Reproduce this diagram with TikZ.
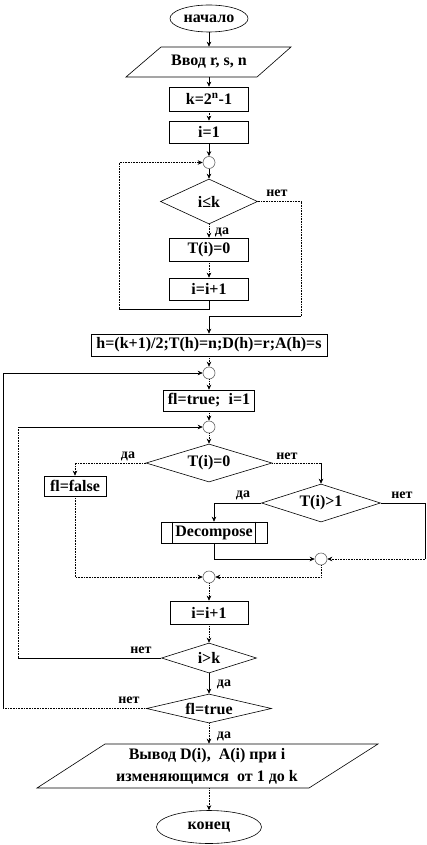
\documentclass[tikz,border=0pt]{standalone}
\usepackage{fontspec}
\setmainfont{Liberation Serif}
\usetikzlibrary{shapes.geometric,arrows.meta}
\begin{document}
\begin{tikzpicture}[x=1pt,y=-1pt,
  font=\fontsize{16}{18}\selectfont\bfseries,
  every path/.style={line width=0.6pt},
  arr/.style={-{Stealth[length=5pt,width=4.5pt]}},
  dt/.style={densely dotted},
  lab/.style={font=\fontsize{14}{16}\selectfont\bfseries, inner sep=0pt},
  pbox/.style={draw, rectangle, inner sep=0pt},
  dia/.style={draw, diamond, inner sep=0pt},
  con/.style={draw=black!60, circle, minimum size=12pt, inner sep=0pt},
  term/.style={draw, ellipse, inner sep=0pt}]
\useasboundingbox (0,0) rectangle (427,845);

% nodes
\node[term, minimum width=78pt, minimum height=27pt] (start) at (209,18.5) {начало};
\node[minimum width=100pt, minimum height=30pt, inner sep=0pt] (io1) at (209,62) {Ввод r, s, n};
\draw (161,47) -- (291,47) -- (257,77) -- (126,77) -- cycle;
\node[pbox, minimum width=79pt, minimum height=24pt] (k) at (209,99) {k=2\textsuperscript{n}-1};
\node[pbox, minimum width=79pt, minimum height=22pt] (i1) at (209,132) {i=1};
\node[con] (c1) at (209,162.5) {};
\node[dia, minimum width=97pt, minimum height=45pt, aspect=2.15] (d1) at (209,201.5) {i≤k};
\node[pbox, minimum width=79pt, minimum height=23pt] (t0) at (209,249.5) {T(i)=0};
\node[pbox, minimum width=79pt, minimum height=22pt] (inc1) at (209,289) {i=i+1};
\node[pbox, minimum width=236pt, minimum height=22pt] (h) at (209,345) {h=(k+1)/2;T(h)=n;D(h)=r;A(h)=s};
\node[con] (c2) at (209,373) {};
\node[pbox, minimum width=91pt, minimum height=21pt] (f) at (209,400.5) {fl=true;\ \ i=1};
\node[con] (c3) at (209,427) {};
\node[dia, minimum width=126pt, minimum height=38pt, aspect=3.3] (d2) at (209,463) {T(i)=0};
\node[pbox, minimum width=62pt, minimum height=20pt] (ff) at (75,486) {fl=false};
\node[dia, minimum width=119pt, minimum height=38pt, aspect=3.1] (d3) at (321,503) {T(i)>1};
\node[pbox, minimum width=106pt, minimum height=21pt] (dec) at (214,532.5) {Decompose};
\draw ([xshift=12pt]dec.north west) -- ([xshift=12pt]dec.south west);
\draw ([xshift=-12pt]dec.north east) -- ([xshift=-12pt]dec.south east);
\node[con] (c4) at (321,559) {};
\node[con] (c5) at (209,577) {};
\node[pbox, minimum width=78pt, minimum height=23pt] (inc2) at (209,612.5) {i=i+1};
\node[dia, minimum width=95pt, minimum height=30pt, aspect=3.2] (d4) at (209,658) {i>k};
\node[dia, minimum width=125pt, minimum height=29pt, aspect=4.3] (d5) at (209,708.5) {fl=true};
\node[minimum width=200pt, minimum height=44pt, inner sep=0pt, align=center,
      font=\fontsize{16}{22}\selectfont\bfseries] (out) at (207,766)
      {Вывод D(i),\ \ A(i) при i\\изменяющимся\ \ от 1 до k};
\draw (105,744) -- (378,744) -- (309,788) -- (37,788) -- cycle;
\node[term, minimum width=105pt, minimum height=33pt] (end) at (209,827) {конец};

% labels
\node[lab] at (277,193) {нет};
\node[lab] at (222,232) {да};
\node[lab] at (128,456) {да};
\node[lab] at (287,456) {нет};
\node[lab] at (243,495) {да};
\node[lab] at (402,495) {нет};
\node[lab] at (141,650) {нет};
\node[lab] at (224,684) {да};
\node[lab] at (129,700) {нет};
\node[lab] at (224,736) {да};

% corner coordinates
\coordinate (p1) at (209,309);
\coordinate (p2) at (119,309);
\coordinate (p3) at (301,201.5);
\coordinate (p4) at (301,316);
\coordinate (p5) at (209,316);
\coordinate (q1) at (75,463);
\coordinate (q2) at (321,463);
\coordinate (q3) at (214,503);
\coordinate (q4) at (425,503);
\coordinate (q5) at (425,559);
\coordinate (q6) at (214,559);
\coordinate (q7) at (321,577);
\coordinate (q8) at (75,577);
\coordinate (r1) at (18,658);
\coordinate (r2) at (18,427);
\coordinate (s1) at (3,708.5);
\coordinate (s2) at (3,373);

% connectors
\draw[arr] (start) -- (io1);
\draw[arr] (io1) -- (k);
\draw[arr,dt] (k) -- (i1);
\draw[arr] (i1) -- (c1);
\draw[arr] (c1) -- (d1);
\draw[arr,dt] (d1) -- (t0);
\draw[arr,dt] (t0) -- (inc1);
\draw (inc1.south) -- (p1) -- (p2);
\draw[arr,dt] (p2) |- (c1.west);
\draw[dt] (d1.east) -- (p3) -- (p4);
\draw[arr] (p4) -- (p5) -- (h.north);
\draw[arr,dt] (h) -- (c2);
\draw[arr,dt] (c2) -- (f);
\draw[arr,dt] (f) -- (c3);
\draw[arr,dt] (c3) -- (d2);
\draw[arr,dt] (d2.west) -- (q1) -- (ff.north);
\draw[dt] (d2.east) -- (q2);
\draw[arr] (q2) -- (d3.north);
\draw[arr] (d3.west) -- (q3) -- (dec.north);
\draw (d3.east) -- (q4) -- (q5);
\draw[arr,dt] (q5) -- (c4.east);
\draw[arr] (dec.south) -- (q6) -- (c4.west);
\draw[arr,dt] (c4.south) -- (q7) -- (c5.east);
\draw[arr,dt] (ff.south) -- (q8) -- (c5.west);
\draw[arr,dt] (c5) -- (inc2);
\draw[arr,dt] (inc2) -- (d4);
\draw (d4.west) -- (r1);
\draw[dt] (r1) -- (r2);
\draw[arr] (r2) -- (c3.west);
\draw[arr] (d4) -- (d5);
\draw[dt] (d5.west) -- (s1);
\draw[arr] (s1) -- (s2) -- (c2.west);
\draw[arr,dt] (d5.south) -- (d5.south |- out.north);
\draw[arr,dt] (out.south -| end.north) -- (end.north);
\end{tikzpicture}
\end{document}
